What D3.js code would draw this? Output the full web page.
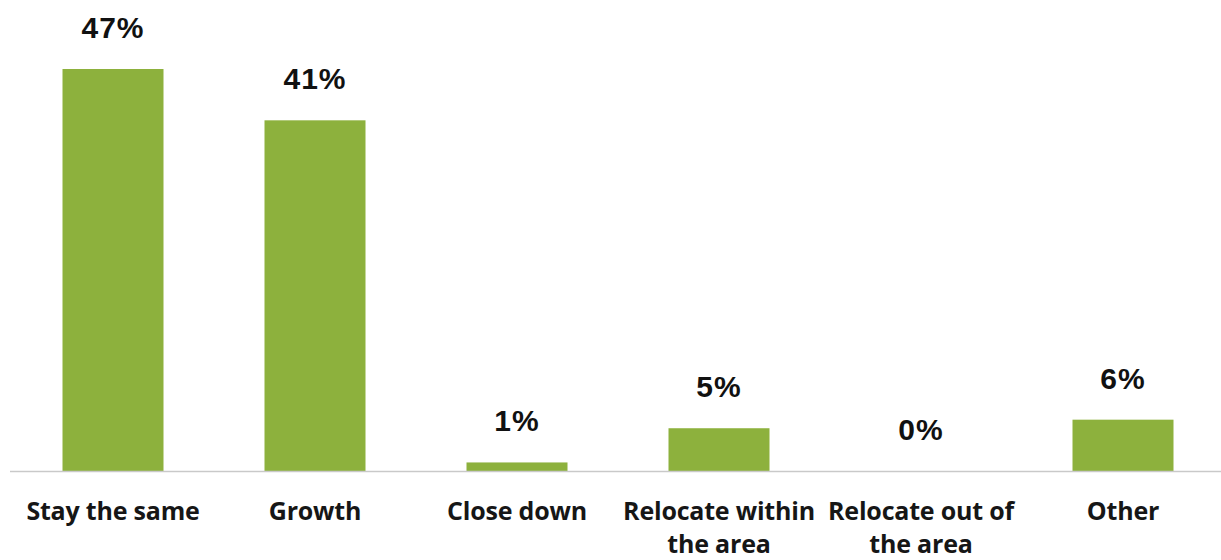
<!DOCTYPE html>
<html>
<head>
<meta charset="utf-8">
<script src="https://cdn.jsdelivr.net/npm/d3@7"></script>
<style>
  html, body { margin: 0; padding: 0; background: #ffffff; }
  svg { display: block; }
</style>
</head>
<body>
<svg id="chart" width="1221" height="560"></svg>
<script>
const categories = ["Stay the same", "Growth", "Close down", "Relocate within the area", "Relocate out of the area", "Other"];
const categoryLines = [["Stay the same"], ["Growth"], ["Close down"], ["Relocate within", "the area"], ["Relocate out of", "the area"], ["Other"]];
const values = [47, 41, 1, 5, 0, 6];
const valueLabels = ["47%", "41%", "1%", "5%", "0%", "6%"];

const svg = d3.select("#chart");
const baseY = 471;

const x = d3.scaleBand()
  .domain(categories)
  .range([12, 1224])
  .paddingInner(0.5)
  .paddingOuter(0.25);

const y = d3.scaleLinear()
  .domain([0, 47])
  .range([baseY, 69]);

// bars
svg.selectAll("rect.bar")
  .data(values)
  .join("rect")
  .attr("class", "bar")
  .attr("x", (d, i) => x(categories[i]))
  .attr("width", x.bandwidth())
  .attr("y", d => y(d))
  .attr("height", d => baseY - y(d))
  .attr("fill", "#8db13d");

// baseline
svg.append("line")
  .attr("x1", 10).attr("x2", 1221)
  .attr("y1", baseY + 0.5).attr("y2", baseY + 0.5)
  .attr("stroke", "#c9c9c9")
  .attr("stroke-width", 1.5);

// value labels
svg.selectAll("text.val")
  .data(values)
  .join("text")
  .attr("class", "val")
  .attr("x", (d, i) => x(categories[i]) + x.bandwidth() / 2)
  .attr("y", d => y(d) - 31)
  .attr("text-anchor", "middle")
  .attr("font-family", "'Liberation Sans', Arial, sans-serif")
  .attr("font-weight", "bold")
  .attr("font-size", 30)
  .attr("letter-spacing", 1)
  .attr("fill", "#111")
  .text((d, i) => valueLabels[i]);

// category labels
const cat = svg.selectAll("text.cat")
  .data(categories)
  .join("text")
  .attr("class", "cat")
  .attr("x", d => x(d) + x.bandwidth() / 2)
  .attr("y", 520)
  .attr("text-anchor", "middle")
  .attr("font-family", "'Open Sans', Lato, sans-serif")
  .attr("font-weight", "bold")
  .attr("font-size", 25)
  .attr("letter-spacing", -0.2)
  .attr("fill", "#161616");

cat.each(function(d, i) {
  const t = d3.select(this);
  categoryLines[i].forEach((line, j) => {
    t.append("tspan")
      .attr("x", x(d) + x.bandwidth() / 2)
      .attr("dy", j === 0 ? 0 : 33)
      .text(line);
  });
});
</script>
</body>
</html>
